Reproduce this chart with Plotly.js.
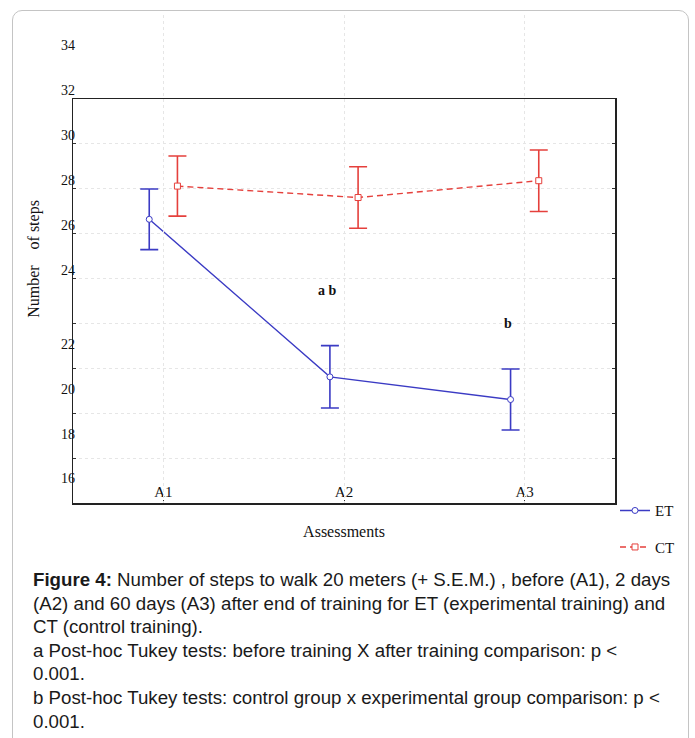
<!DOCTYPE html>
<html>
<head>
<meta charset="utf-8">
<script src="https://cdn.plot.ly/plotly-3.0.1.min.js"></script>
<style>
  html, body { margin: 0; padding: 0; background: #ffffff; }
  #wrap { position: relative; width: 695px; height: 738px; overflow: hidden; }
  #chart { position: absolute; left: 0; top: 0; width: 695px; height: 738px; }
  #frame { position: absolute; left: 12px; top: 10px; width: 677px; height: 760px;
           border: 1.5px solid #c4c4c4; border-radius: 10px; pointer-events: none; box-sizing: border-box; }
  #caption { position: absolute; left: 33px; top: 568px; width: 655px;
             font-family: "Liberation Sans", Arial, sans-serif; font-size: 18.7px; line-height: 23.6px;
             color: #1a1a1a; white-space: nowrap; }
</style>
</head>
<body>
<div id="wrap">
  <div id="chart"></div>
  <div id="frame"></div>
  <div id="caption">
    <b>Figure 4:</b> Number of steps to walk 20 meters (+ S.E.M.) , before (A1), 2 days<br>
    (A2) and 60 days (A3) after end of training for ET (experimental training) and<br>
    CT (control training).<br>
    a Post-hoc Tukey tests: before training X after training comparison: p &lt;<br>
    0.001.<br>
    b Post-hoc Tukey tests: control group x experimental group comparison: p &lt;<br>
    0.001.
  </div>
</div>
<script>
// ---- data ----
const categories = ["A1", "A2", "A3"];
const etMean = [26.64, 19.62, 18.61];
const etSem  = [1.35, 1.39, 1.36];
const ctMean = [28.12, 27.61, 28.36];
const ctSem  = [1.34, 1.37, 1.37];
const seriesNames = ["ET", "CT"];
const gridTicks = [16, 18, 20, 22, 24, 26, 28, 30];
const yTickLabels = [34, 32, 30, 28, 26, 24, 22, 20, 18, 16];
const noteTexts = ["a b", "b"];
const noteCats = ["A2", "A3"];
const noteValues = [23.45, 21.98];

// ---- layout helpers ----
const catPos = categories.map((c, i) => i + 1);
const groupOffset = 0.078;
const noteOffset = -0.094;
const yRange = [14, 32];
const plotTopPx = 15, boxTopPx = 99, boxBotPx = 503;
const dTop = (boxBotPx - boxTopPx) / (boxBotPx - plotTopPx);
const labelRangeTop = yRange[0] + (yRange[1] - yRange[0]) / dTop;
// the printed tick labels sit slightly off the gridlines in the original figure
const labelVals = yTickLabels.map(v => v + (v >= 24 ? 0.38 : -0.91));

const blue = "#3b3bc4";
const red = "#e5403c";
const serif = "Liberation Serif, Times New Roman, serif";

const traces = [
  {
    name: seriesNames[0], legendgroup: "et",
    x: catPos.map(p => p - groupOffset), y: etMean,
    type: "scatter", mode: "lines+markers",
    line: { color: blue, width: 1.4 },
    marker: { symbol: "circle", size: 6, color: "#ffffff", line: { color: blue, width: 1 } },
    error_y: { type: "data", array: etSem, visible: true, color: blue, thickness: 1.6, width: 9 },
    hoverinfo: "skip"
  },
  {
    name: seriesNames[1], legendgroup: "ct",
    x: catPos.map(p => p + groupOffset), y: ctMean,
    type: "scatter", mode: "lines+markers",
    line: { color: red, width: 1.4, dash: "6px,4px" },
    marker: { symbol: "square", size: 6, color: "#ffffff", line: { color: red, width: 1 } },
    error_y: { type: "data", array: ctSem, visible: true, color: red, thickness: 1.6, width: 9 },
    hoverinfo: "skip"
  },
  {
    // carrier for the printed y tick labels / axis title
    name: "", x: [null], y: [null], yaxis: "y2", type: "scatter", mode: "markers",
    showlegend: false, hoverinfo: "skip"
  }
];

const annotations = noteTexts.map((t, i) => ({
  text: "<b>" + t + "</b>",
  x: catPos[categories.indexOf(noteCats[i])] + noteOffset,
  y: noteValues[i], xref: "x", yref: "y",
  showarrow: false, font: { family: serif, size: 14, color: "#111" }
}));

const layout = {
  width: 695, height: 738,
  margin: { l: 73, r: 80, t: plotTopPx, b: 738 - boxBotPx, pad: 0 },
  paper_bgcolor: "rgba(0,0,0,0)",
  plot_bgcolor: "rgba(0,0,0,0)",
  showlegend: true,
  legend: {
    x: 1.0, xanchor: "left", y: 0.018, yanchor: "top",
    font: { family: serif, size: 15, color: "#111" },
    bgcolor: "rgba(0,0,0,0)", borderwidth: 0,
    traceorder: "grouped", tracegroupgap: 14, itemwidth: 30
  },
  xaxis: {
    range: [0.5, 3.5], tickvals: catPos, ticktext: categories,
    ticklabelposition: "inside", ticks: "inside", ticklen: 3, tickcolor: "#333",
    showline: true, linecolor: "#222", linewidth: 1.5, mirror: "ticks",
    showgrid: true, gridcolor: "#e6e6e6", griddash: "dot", gridwidth: 1,
    zeroline: false, automargin: false, fixedrange: true,
    tickfont: { family: serif, size: 15, color: "#111" },
    title: { text: "Assessments", font: { family: serif, size: 16, color: "#111" }, standoff: 27 }
  },
  yaxis: {
    domain: [0, dTop], range: yRange, tickvals: gridTicks,
    showticklabels: false, ticks: "inside", ticklen: 3, tickcolor: "#333",
    showline: true, linecolor: "#222", linewidth: 1.5, mirror: "ticks",
    showgrid: true, gridcolor: "#e6e6e6", griddash: "dot", gridwidth: 1,
    zeroline: false, automargin: false, fixedrange: true
  },
  yaxis2: {
    anchor: "x", domain: [0, 1], range: [yRange[0], labelRangeTop],
    tickvals: labelVals, ticktext: yTickLabels.map(String),
    ticks: "", showline: false, showgrid: false, zeroline: false,
    automargin: false, fixedrange: true, ticklabelstandoff: -3,
    tickfont: { family: serif, size: 14, color: "#111" },
    title: { text: "Number\u00a0\u00a0\u00a0 of steps", font: { family: serif, size: 16, color: "#111" }, standoff: 17 }
  },
  annotations: annotations
};

Plotly.newPlot("chart", traces, layout, { displayModeBar: false, staticPlot: true });
</script>
</body>
</html>
